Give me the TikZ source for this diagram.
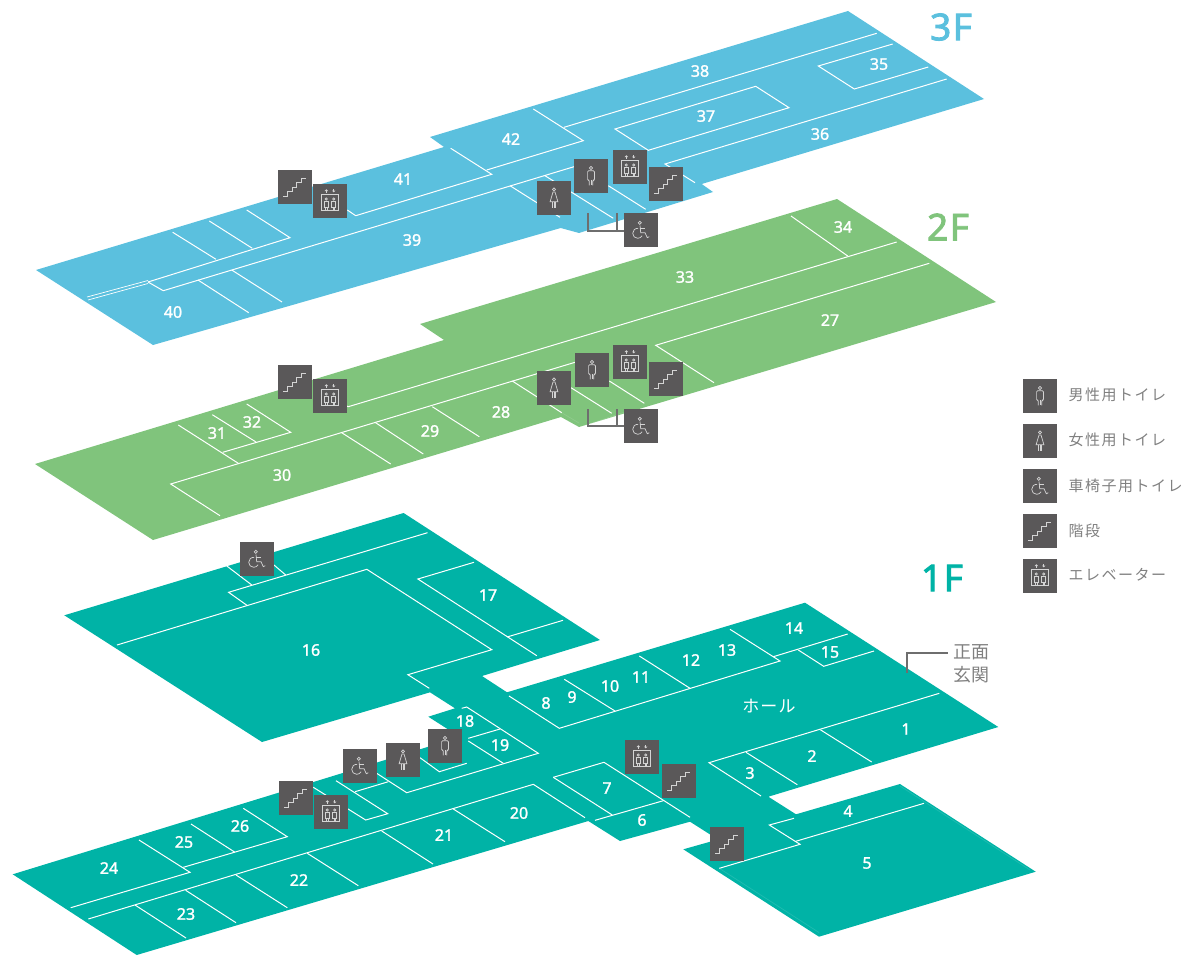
\documentclass[tikz,border=0pt]{standalone}
\usepackage{fontspec}
\setmainfont{Noto Sans}
\newfontfamily\jpfont[LetterSpace=10]{Noto Sans CJK JP}
\newfontfamily\numfont[FakeBold=1.5]{Noto Sans}
\newfontfamily\floorfont[LetterSpace=4,FakeBold=2.5]{Noto Sans}
\definecolor{floorblue}{HTML}{5BC0DE}
\definecolor{floorgreen}{HTML}{80C47C}
\definecolor{floorteal}{HTML}{00B3A6}
\definecolor{icongrey}{HTML}{5A5859}
\definecolor{icongline}{HTML}{D4D4D4}
\definecolor{textgrey}{HTML}{808080}
\definecolor{leadergrey}{HTML}{6E6E6E}

\begin{document}
\begin{tikzpicture}[
  x=1pt, y=-1pt,
  wall/.style={white, line width=1pt, line join=miter},
  faintwall/.style={white, opacity=0.12, line width=0.7pt},
  roomlabel/.style={white, inner sep=0pt, font=\fontsize{16}{18}\numfont},
  floorlabel/.style={inner sep=0pt, font=\fontsize{37}{40}\floorfont},
  legendlabel/.style={textgrey, anchor=west, inner sep=0pt, font=\fontsize{15}{18}\jpfont},
  leader/.style={leadergrey, line width=1.6pt},
  iconbox/.style={fill=icongrey},
  iconline/.style={icongline, line width=0.7pt, line join=miter},
  stairsicon/.pic={
    \fill[iconbox] (-17,-17) rectangle (17,17);
    \draw[iconline, line width=1pt] (-11.7,9.3) -- (-7.3,9.3) -- (-7.3,4.7) -- (-3,4.7) -- (-3,0) -- (1.3,0)
      -- (1.3,-4.3) -- (6,-4.3) -- (6,-9) -- (11,-9);
  },
  lifticon/.pic={
    \fill[iconbox] (-17,-17) rectangle (17,17);
    \draw[iconline] (-8.3,-7) rectangle (8.3,9.7);
    \draw[iconline] (-3.7,-2) circle (1.1);
    \draw[iconline] (3.7,-2) circle (1.1);
    \draw[iconline] (-5.7,0.6) rectangle (-1.7,6);
    \draw[iconline] (1.7,0.6) rectangle (5.7,6);
    \draw[iconline] (-4.5,6) -- (-4.5,9.7);
    \draw[iconline] (-2.9,6) -- (-2.9,9.7);
    \draw[iconline] (2.9,6) -- (2.9,9.7);
    \draw[iconline] (4.5,6) -- (4.5,9.7);
    \fill[icongline] (-3.7,-11.8) -- (-5.4,-10) -- (-2,-10) -- cycle;
    \fill[icongline] (3.7,-8.6) -- (2,-10.4) -- (5.4,-10.4) -- cycle;
    \draw[iconline] (-3.7,-10) -- (-3.7,-8.4);
    \draw[iconline] (3.7,-10.4) -- (3.7,-12);
  },
  manicon/.pic={
    \fill[iconbox] (-17,-17) rectangle (17,17);
    \draw[iconline] (0,-8) circle (1.6);
    \draw[iconline, rounded corners=1pt] (-1.7,9.3) -- (-1.7,4.3) -- (-3.4,4.3) -- (-3.4,-5.3) -- (3.4,-5.3) -- (3.4,4.3)
      -- (1.7,4.3) -- (1.7,9.3);
    \draw[iconline] (0,4.3) -- (0,9.3);
  },
  womanicon/.pic={
    \fill[iconbox] (-17,-17) rectangle (17,17);
    \draw[iconline] (0,-8.7) circle (1.5);
    \draw[iconline] (-1,-6) -- (1,-6) -- (3.9,3.7) -- (-3.9,3.7) -- cycle;
    \draw[iconline] (-1.6,3.7) -- (-1.6,9.5);
    \draw[iconline] (1.6,3.7) -- (1.6,9.5);
    \draw[iconline] (0,3.7) -- (0,9.5);
  },
  chairicon/.pic={
    \fill[iconbox] (-17,-17) rectangle (17,17);
    \draw[iconline] (-1.2,-7.2) circle (1.6);
    \draw[iconline] (-1,-4.5) -- (-0.3,2.7) -- (4,2.7) -- (6.3,7.7) -- (8.3,6.7);
    \draw[iconline] (-0.8,-1.2) -- (4,-1.2);
    \draw[iconline] (-2.8,-1.7) .. controls (-6,-1.9) and (-8.3,0.5) .. (-8.3,3.3)
      .. controls (-8.3,6.1) and (-6.1,8.3) .. (-3.3,8.3)
      .. controls (-1.4,8.3) and (0.2,7.3) .. (1.1,5.7);
  }
]
\useasboundingbox (0,0) rectangle (1185,955);

% 3F floor
\fill[floorblue] (36,270) -- (153,345) -- (560.7,228) -- (579,233) -- (713,192) -- (701.7,184) -- (984,99)
  -- (848,11) -- (430,137) -- (444,147) -- cycle;
\draw[wall, line width=0.7pt] (87,297) -- (148,280.5);
\draw[wall, line width=0.7pt] (88,300) -- (148,283.5);
\draw[wall] (148,282) -- (290,237.7) -- (246.7,210);
\draw[wall] (172.7,232.3) -- (216,259.3);
\draw[wall] (209.3,221) -- (252.3,248.3);
\draw[wall] (148,282) -- (163.3,290.7) -- (574,166.7);
\draw[wall] (198,280) -- (248.7,312.7);
\draw[wall] (231.7,270) -- (282,302);
\draw[wall] (347.3,210) -- (355.7,215.7) -- (491.7,174.3) -- (450.7,148.3);
\draw[wall] (486.7,170) -- (583.3,140.7) -- (533.3,109);
\draw[wall] (564,127.3) -- (876.7,33.3);
\draw[wall] (615,129) -- (755.7,86.3) -- (789,107.7) -- (648.3,150.3) -- cycle;
\draw[wall] (946.7,79) -- (665,164) -- (695,182.7);
\draw[wall] (892.7,44) -- (818.3,66) -- (854.3,89) -- (928.3,67);
\draw[wall] (510,185.7) -- (560,217.3);
\draw[wall] (545,175.7) -- (613.3,218.3);
\draw[wall] (608.3,185.7) -- (645.7,209.3);
\draw[faintwall] (581,232.3) -- (625,220);

% 2F floor
\fill[floorgreen] (35,464) -- (153,540) -- (561,417) -- (579,427) -- (996,302) -- (837,199) -- (420,324)
  -- (444,340) -- cycle;
\draw[wall] (178.3,425) -- (238.3,463.3);
\draw[wall] (212.3,414.7) -- (256,442);
\draw[wall] (222.7,452.3) -- (290.7,432.3) -- (246.7,404);
\draw[wall] (220,515.7) -- (170.7,484) -- (575,362.3);
\draw[wall] (341.7,432.7) -- (390.7,464);
\draw[wall] (375,422.3) -- (423.3,454);
\draw[wall] (432.3,406.7) -- (479.3,436.7);
\draw[wall] (340,403) -- (348.3,406.7) -- (896.7,242);
\draw[wall] (791,216) -- (847.7,256);
\draw[wall] (929.3,263.3) -- (655.7,345.3) -- (714,382.7);
\draw[wall] (512.3,381) -- (561.7,412.7);
\draw[wall] (571,387.7) -- (611.7,413.3);
\draw[wall] (609.3,381) -- (644.3,403.3);
\draw[faintwall] (561.7,412.7) -- (579,423);
\draw[faintwall] (586,425) -- (625,412);

% 1F floor
\fill[floorteal] (64.3,615.3) -- (403.6,513) -- (600,640) -- (482,676) -- (507,692.3) -- (805,602.7)
  -- (998.3,727) -- (768.3,796.7) -- (796,814.3) -- (900,784) -- (1035.7,871.7) -- (819,936.7)
  -- (683.3,849.3) -- (718,839.5) -- (690,821.7) -- (620,841) -- (588.3,821) -- (136.7,955)
  -- (12.7,874.3) -- (460,737) -- (428.3,716.7) -- (455,708.3) -- (430,692.3) -- (262,742) -- cycle;
\draw[wall] (427.5,532.7) -- (228.6,592.3) -- (247.5,605.7);
\draw[wall] (117,645) -- (366.8,569.3) -- (491.8,649.7) -- (407.9,674.7) -- (429.3,688.3);
\draw[wall] (226.8,566) -- (251.8,585);
\draw[wall] (274,565) -- (285.7,575);
\draw[wall] (474,562.3) -- (417.9,579) -- (536.8,655.7);
\draw[wall] (507,637) -- (563,620.3);
\draw[wall] (376.7,773.3) -- (406.7,792.7) -- (538.3,753.3) -- (466.7,707) -- (461.7,708.3);
\draw[wall] (468.3,738.3) -- (500,729);
\draw[wall] (468.3,741) -- (503.3,763.3);
\draw[wall] (420,757.7) -- (439.3,771.7) -- (466.7,763.3);
\draw[wall] (509,696) -- (559.3,728.3) -- (780,661) -- (730,629.3);
\draw[wall] (564.3,679.3) -- (615,711);
\draw[wall] (639.3,656) -- (690,688.3);
\draw[wall] (773.3,656.7) -- (847.7,634);
\draw[wall] (798.3,650) -- (823.7,666.3) -- (874,651);
\draw[wall] (939.3,693.3) -- (709,762.7) -- (761,796);
\draw[wall] (746,752.3) -- (797.3,784.7);
\draw[wall] (820.3,729.7) -- (871.7,762);
\draw[wall] (794,818.3) -- (769.3,825) -- (800,844.3) -- (719.3,868.3);
\draw[wall] (795.7,841.3) -- (924,803.3);
\draw[faintwall] (719.3,868.3) -- (819,932.5);
\draw[faintwall] (900,786) -- (1030,870);
\draw[wall] (553.3,777.3) -- (604,762.3) -- (690,817.3);
\draw[wall] (553.3,777.3) -- (612.3,815);
\draw[wall] (595,820.3) -- (663.3,800.7);
\draw[wall] (88.3,919) -- (533.3,784.3) -- (585,817.7);
\draw[wall] (453.3,809) -- (505,841.7);
\draw[wall] (381.7,831) -- (433,864);
\draw[wall] (307.3,853.3) -- (358.3,885.7);
\draw[wall] (236,875) -- (287.3,907.7);
\draw[wall] (185.7,890.3) -- (236,922.7);
\draw[wall] (135,905) -- (186,938);
\draw[wall] (70.7,907.7) -- (190,872.3) -- (139,840);
\draw[wall] (183.3,867.3) -- (287.3,836.7) -- (243.3,808.3);
\draw[wall] (191,824) -- (235,852.3);
\draw[wall] (313.3,787.3) -- (365.7,820) -- (387.7,813.7) -- (336,780.7);
\draw[wall] (355,791.7) -- (388.3,781.7);

% Leaders
\draw[leader] (587.7,213.3) -- (587.7,230.7) -- (625,230.7);
\draw[leader] (616.7,213.3) -- (616.7,230.7);
\draw[leader] (587.7,409) -- (587.7,426) -- (625,426);
\draw[leader] (616.7,409) -- (616.7,426);
\draw[leader] (947.7,652.7) -- (906.7,652.7) -- (906.7,672.7);

% Room numbers, 3F
\node[roomlabel] (r38) at (700,71) {38};
\node[roomlabel] (r35) at (879,64) {35};
\node[roomlabel] (r37) at (706,116) {37};
\node[roomlabel] (r36) at (820,134) {36};
\node[roomlabel] (r42) at (511,139) {42};
\node[roomlabel] (r41) at (403,179) {41};
\node[roomlabel] (r39) at (412,240) {39};
\node[roomlabel] (r40) at (173,312) {40};

% Room numbers, 2F
\node[roomlabel] (r34) at (843,227) {34};
\node[roomlabel] (r33) at (685,277) {33};
\node[roomlabel] (r27) at (830,320) {27};
\node[roomlabel] (r28) at (501,412) {28};
\node[roomlabel] (r29) at (430,431) {29};
\node[roomlabel] (r30) at (282,475) {30};
\node[roomlabel] (r31) at (217,433) {31};
\node[roomlabel] (r32) at (252,422) {32};

% Room numbers, 1F
\node[roomlabel] (r1) at (906,729) {1};
\node[roomlabel] (r2) at (812,756) {2};
\node[roomlabel] (r3) at (750,773) {3};
\node[roomlabel] (r4) at (848,811) {4};
\node[roomlabel] (r5) at (867,863) {5};
\node[roomlabel] (r6) at (642,820) {6};
\node[roomlabel] (r7) at (607,788) {7};
\node[roomlabel] (r8) at (546,703) {8};
\node[roomlabel] (r9) at (572,697) {9};
\node[roomlabel] (r10) at (610,686) {10};
\node[roomlabel] (r11) at (641,677) {11};
\node[roomlabel] (r12) at (691,660) {12};
\node[roomlabel] (r13) at (727,650) {13};
\node[roomlabel] (r14) at (794,628) {14};
\node[roomlabel] (r15) at (830,652) {15};
\node[roomlabel] (r16) at (311,650) {16};
\node[roomlabel] (r17) at (488,595) {17};
\node[roomlabel] (r18) at (465,721) {18};
\node[roomlabel] (r19) at (500,745) {19};
\node[roomlabel] (r20) at (519,813) {20};
\node[roomlabel] (r21) at (444,835) {21};
\node[roomlabel] (r22) at (299,880) {22};
\node[roomlabel] (r23) at (186,914) {23};
\node[roomlabel] (r24) at (109,868) {24};
\node[roomlabel] (r25) at (184,842) {25};
\node[roomlabel] (r26) at (240,826) {26};
\node[white, inner sep=0pt, font=\fontsize{17}{20}\jpfont\addfontfeature{LetterSpace=7}] (hall) at (769,706) {ホール};

% Floor names
\node[floorlabel, floorblue] (f3) at (951,27) {3F};
\node[floorlabel, floorgreen] (f2) at (948,227) {2F};
\node[floorlabel, floorteal] (f1) at (942,578) {1F};

% Entrance
\node[textgrey, inner sep=0pt, align=center, font=\fontsize{18}{22.7}\selectfont\jpfont\addfontfeature{LetterSpace=0}] (door) at (971,664) {正面\\玄関};

% Icons, 3F
\pic (stairs3a) at (295,187) {stairsicon};
\pic (lift3a) at (330,201) {lifticon};
\pic (woman3) at (554,198) {womanicon};
\pic (man3) at (591,176) {manicon};
\pic (lift3b) at (630,167) {lifticon};
\pic (stairs3b) at (666,184) {stairsicon};
\pic (chair3) at (641,230) {chairicon};

% Icons, 2F
\pic (stairs2a) at (295,382) {stairsicon};
\pic (lift2a) at (330,396) {lifticon};
\pic (woman2) at (554,388) {womanicon};
\pic (man2) at (592,370) {manicon};
\pic (lift2b) at (630,362) {lifticon};
\pic (stairs2b) at (666,379) {stairsicon};
\pic (chair2) at (641,426) {chairicon};

% Icons, 1F
\pic (chair1a) at (257,559) {chairicon};
\pic (stairs1a) at (296,798) {stairsicon};
\pic (lift1a) at (331,812) {lifticon};
\pic (chair1b) at (360,766) {chairicon};
\pic (woman1) at (403,760) {womanicon};
\pic (man1) at (445,746) {manicon};
\pic (lift1b) at (642,757) {lifticon};
\pic (stairs1b) at (679,781) {stairsicon};
\pic (stairs1c) at (727,844) {stairsicon};

% Legend
\pic (keyman) at (1040,396) {manicon};
\pic (keywoman) at (1040,441) {womanicon};
\pic (keychair) at (1040,486) {chairicon};
\pic (keystairs) at (1040,531) {stairsicon};
\pic (keylift) at (1040,576) {lifticon};
\node[legendlabel] (lman) at (1068.5,395) {男性用トイレ};
\node[legendlabel] (lwoman) at (1068.5,440) {女性用トイレ};
\node[legendlabel] (lchair) at (1068.5,486) {車椅子用トイレ};
\node[legendlabel] (lstairs) at (1068.5,531) {階段};
\node[legendlabel] (llift) at (1068.5,575) {エレベーター};

\end{tikzpicture}
\end{document}
